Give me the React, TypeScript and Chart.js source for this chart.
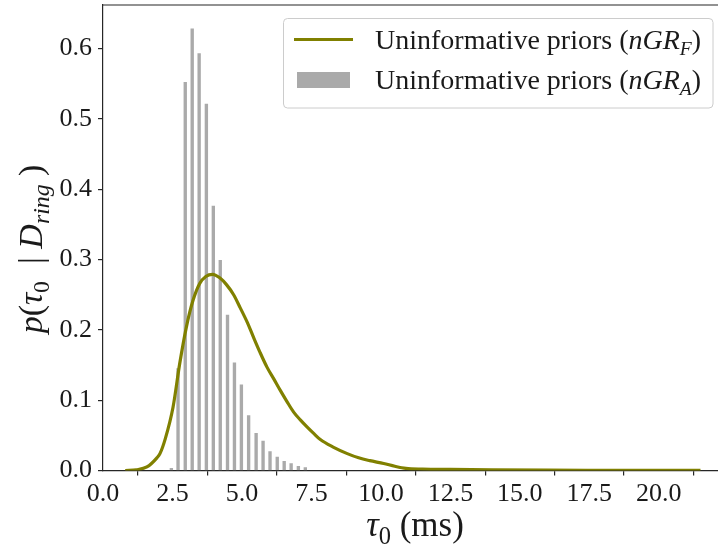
import React, { useEffect, useRef } from "react";
import { Chart, registerables } from "chart.js";

Chart.register(...registerables);

// Histogram (nGR_A): bar centers (ms) and densities
const barX = [2.46, 2.70, 2.96, 3.21, 3.46, 3.72, 3.97, 4.22, 4.48, 4.73, 4.98, 5.24, 5.51, 5.76, 6.01, 6.27, 6.52, 6.77, 7.03, 7.28];
const barY = [0.003, 0.145, 0.552, 0.628, 0.593, 0.521, 0.376, 0.299, 0.221, 0.153, 0.122, 0.078, 0.053, 0.042, 0.027, 0.019, 0.013, 0.010, 0.006, 0.004];

// KDE curve (nGR_F)
const curveX = [0.8, 1.2, 1.58, 1.94, 2.05, 2.24, 2.52, 2.76, 3.0, 3.24, 3.48, 3.7, 3.94, 4.2, 4.45, 4.7, 4.93, 5.2, 5.41, 5.65, 5.9, 6.15, 6.38, 6.62, 6.86, 7.1, 7.34, 7.6, 7.82, 8.3, 8.79, 9.2, 9.6, 10.1, 10.5, 10.9, 11.5, 12.5, 14, 16, 18, 21.5];
const curveY = [0.0, 0.001, 0.005, 0.018, 0.024, 0.045, 0.09, 0.152, 0.204, 0.242, 0.266, 0.276, 0.279, 0.274, 0.264, 0.25, 0.232, 0.21, 0.19, 0.168, 0.147, 0.13, 0.114, 0.098, 0.083, 0.072, 0.062, 0.052, 0.044, 0.033, 0.024, 0.018, 0.014, 0.01, 0.006, 0.003, 0.002, 0.0015, 0.001, 0.0005, 0.0003, 0.0002];

const xTicks = [0, 2.5, 5, 7.5, 10, 12.5, 15, 17.5, 20];
const yTicks = [0, 0.1, 0.2, 0.3, 0.4, 0.5, 0.6];

const legendLabelF = "Uninformative priors (";
const legendLabelA = "Uninformative priors (";

const FONT = '"Liberation Serif", "Times New Roman", serif';
const OLIVE = "#808000";
const GRAY = "#aaaaaa";
const AXIS = "#262626";

type Seg = { t: string; it?: boolean; sub?: boolean };

function segFont(s: Seg, size: number) {
  const sz = s.sub ? size * 0.7 : size;
  return `${s.it ? "italic " : ""}${sz}px ${FONT}`;
}

function richWidth(ctx: CanvasRenderingContext2D, segs: Seg[], size: number) {
  let w = 0;
  for (const s of segs) {
    ctx.font = segFont(s, size);
    w += ctx.measureText(s.t).width;
  }
  return w;
}

function drawRich(ctx: CanvasRenderingContext2D, segs: Seg[], x: number, y: number, size: number, align: "left" | "center") {
  let cx = align === "center" ? x - richWidth(ctx, segs, size) / 2 : x;
  ctx.textAlign = "left";
  ctx.textBaseline = "alphabetic";
  for (const s of segs) {
    ctx.font = segFont(s, size);
    ctx.fillText(s.t, cx, s.sub ? y + size * 0.22 : y);
    cx += ctx.measureText(s.t).width;
  }
}

const decorPlugin = {
  id: "decor",
  afterDraw(chart: any) {
    const ctx: CanvasRenderingContext2D = chart.ctx;
    const area = chart.chartArea;
    ctx.save();
    // top spine
    ctx.strokeStyle = AXIS;
    ctx.lineWidth = 1.2;
    ctx.beginPath();
    ctx.moveTo(area.left, area.top);
    ctx.lineTo(chart.width, area.top);
    ctx.stroke();

    ctx.fillStyle = "#1a1a1a";
    // x title
    drawRich(ctx, [{ t: "τ", it: true }, { t: "0", sub: true }, { t: " (ms)" }], 415, 536, 35, "center");
    // y title
    ctx.save();
    ctx.translate(42, 249);
    ctx.rotate(-Math.PI / 2);
    drawRich(
      ctx,
      [
        { t: "p", it: true },
        { t: "(" },
        { t: "τ", it: true },
        { t: "0", sub: true },
        { t: "  | " },
        { t: "D", it: true },
        { t: "ring", it: true, sub: true },
        { t: " )" },
      ],
      0,
      0,
      34,
      "center"
    );
    ctx.restore();

    // legend
    const lx = 283.5, ly = 18.5, lw = 429.5, lh = 89.5, r = 4;
    ctx.beginPath();
    ctx.moveTo(lx + r, ly);
    ctx.lineTo(lx + lw - r, ly);
    ctx.arcTo(lx + lw, ly, lx + lw, ly + r, r);
    ctx.lineTo(lx + lw, ly + lh - r);
    ctx.arcTo(lx + lw, ly + lh, lx + lw - r, ly + lh, r);
    ctx.lineTo(lx + r, ly + lh);
    ctx.arcTo(lx, ly + lh, lx, ly + lh - r, r);
    ctx.lineTo(lx, ly + r);
    ctx.arcTo(lx, ly, lx + r, ly, r);
    ctx.closePath();
    ctx.fillStyle = "rgba(255,255,255,0.85)";
    ctx.fill();
    ctx.strokeStyle = "#cccccc";
    ctx.lineWidth = 1;
    ctx.stroke();

    ctx.strokeStyle = OLIVE;
    ctx.lineWidth = 3.2;
    ctx.beginPath();
    ctx.moveTo(294, 39.5);
    ctx.lineTo(353, 39.5);
    ctx.stroke();
    ctx.fillStyle = GRAY;
    ctx.fillRect(297, 72, 53, 16);

    ctx.fillStyle = "#1a1a1a";
    drawRich(ctx, [{ t: legendLabelF }, { t: "nGR", it: true }, { t: "F", it: true, sub: true }, { t: ")" }], 375, 48.5, 28, "left");
    drawRich(ctx, [{ t: legendLabelA }, { t: "nGR", it: true }, { t: "A", it: true, sub: true }, { t: ")" }], 375, 89, 28, "left");
    ctx.restore();
  },
};

export default function App() {
  const ref = useRef<HTMLCanvasElement>(null);
  useEffect(() => {
    document.body.style.margin = "0";
    document.body.style.overflow = "hidden";
    const canvas = ref.current!;
    const chart = new Chart(canvas, {
      data: {
        datasets: [
          {
            type: "line",
            label: "Uninformative priors (nGR_F)",
            data: curveX.map((x, i) => ({ x, y: curveY[i] })),
            borderColor: OLIVE,
            borderWidth: 3.2,
            pointRadius: 0,
            cubicInterpolationMode: "monotone",
            fill: false,
            order: 0,
          } as any,
          {
            type: "bar",
            label: "Uninformative priors (nGR_A)",
            data: barX.map((x, i) => ({ x, y: barY[i] })),
            backgroundColor: GRAY,
            barThickness: 2.7,
            order: 1,
          } as any,
        ],
      },
      options: {
        responsive: false,
        animation: false,
        devicePixelRatio: 1,
        layout: { padding: { top: 5, right: 0, left: 0, bottom: 0 } },
        plugins: { legend: { display: false }, tooltip: { enabled: false } },
        scales: {
          x: {
            type: "linear",
            min: 0,
            max: 22.13,
            offset: false,
            afterBuildTicks: (s: any) => {
              s.ticks = xTicks.map((v) => ({ value: v }));
            },
            afterFit: (s: any) => {
              s.height = 75.5;
              s.paddingLeft = 0;
              s.paddingRight = 0;
            },
            ticks: {
              callback: (v: any) => Number(v).toFixed(1),
              font: { family: FONT, size: 26 },
              color: "#1a1a1a",
              padding: 3,
              maxRotation: 0,
              autoSkip: false,
            },
            grid: { drawOnChartArea: false, drawTicks: true, tickLength: 5, color: AXIS, lineWidth: 1.2 },
            border: { display: true, color: AXIS, width: 1.2 },
          },
          y: {
            type: "linear",
            min: 0,
            max: 0.662,
            afterBuildTicks: (s: any) => {
              s.ticks = yTicks.map((v) => ({ value: v }));
            },
            afterFit: (s: any) => {
              s.width = 103;
              s.paddingTop = 0;
              s.paddingBottom = 0;
            },
            ticks: {
              callback: (v: any) => Number(v).toFixed(1),
              font: { family: FONT, size: 26 },
              color: "#1a1a1a",
              padding: 6,
              autoSkip: false,
            },
            grid: { drawOnChartArea: false, drawTicks: true, tickLength: 5, color: AXIS, lineWidth: 1.2 },
            border: { display: true, color: AXIS, width: 1.2 },
          },
        },
      } as any,
      plugins: [decorPlugin],
    });
    return () => chart.destroy();
  }, []);
  return (
    <div style={{ position: "fixed", left: 0, top: 0, width: 718, height: 546, background: "#fff" }}>
      <canvas ref={ref} width={718} height={546} style={{ display: "block" }} />
    </div>
  );
}
